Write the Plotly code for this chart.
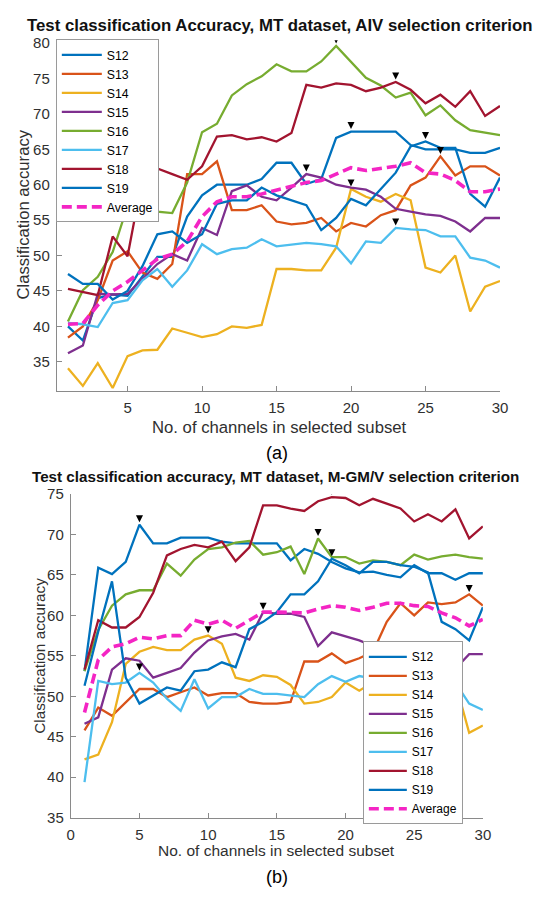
import plotly.graph_objects as go

# ---------------- data ----------------
channels = list(range(1, 31))
subjects = ["S12", "S13", "S14", "S15", "S16", "S17", "S18", "S19"]

# (a) AIV selection criterion
a_S12 = [40.0, 38.0, 44.0, 44.5, 44.3, 47.0, 49.8, 49.8, 55.5, 58.5, 60.0, 60.0, 60.0, 60.8, 63.1,
         63.1, 60.1, 60.8, 66.6, 67.5, 67.5, 67.5, 67.5, 65.6, 65.0, 65.0, 65.0, 64.5, 64.5, 65.2]
a_S13 = [38.4, 40.0, 43.7, 49.3, 50.6, 47.6, 46.7, 48.8, 61.5, 61.5, 63.3, 56.4, 56.4, 57.1, 54.8,
         54.4, 54.6, 55.3, 53.4, 54.6, 54.1, 55.7, 56.4, 59.9, 61.0, 64.0, 61.3, 62.6, 62.6, 61.3]
a_S14 = [34.1, 31.6, 34.8, 31.3, 35.8, 36.6, 36.7, 39.7, 39.1, 38.5, 38.9, 40.0, 39.8, 40.2, 48.1,
         48.1, 47.9, 47.9, 51.1, 59.4, 58.3, 57.6, 58.7, 57.8, 48.3, 47.6, 50.0, 42.1, 45.6, 46.4]
a_S15 = [36.2, 37.3, 44.6, 44.5, 44.6, 46.7, 48.8, 50.2, 49.3, 53.9, 52.9, 59.1, 59.9, 58.3, 57.8,
         59.6, 61.5, 61.0, 60.0, 59.6, 59.3, 58.3, 56.6, 56.2, 55.8, 55.6, 54.8, 53.4, 55.3, 55.3]
a_S16 = [40.7, 45.1, 47.0, 50.5, 57.0, 62.0, 56.2, 56.0, 60.3, 67.4, 68.6, 72.6, 74.2, 75.3, 77.0,
         76.0, 76.0, 77.4, 79.6, 77.4, 75.1, 74.0, 72.3, 73.0, 69.8, 71.2, 69.1, 67.7, 67.3, 67.0]
a_S17 = [40.5, 40.3, 39.9, 43.3, 43.7, 46.5, 48.1, 45.6, 47.9, 51.6, 50.2, 50.9, 51.1, 52.3, 51.3,
         51.6, 51.8, 51.6, 51.3, 48.9, 52.0, 51.8, 53.9, 53.7, 53.6, 52.7, 52.7, 49.7, 49.3, 48.3]
a_S18 = [45.3, 44.9, 44.4, 52.7, 49.9, 61.0, 62.3, 61.5, 60.7, 62.6, 66.8, 67.0, 66.4, 66.7, 66.1,
         67.3, 74.1, 73.7, 74.3, 74.1, 73.2, 73.7, 74.5, 73.4, 71.5, 72.7, 71.0, 73.2, 69.7, 71.1]
a_S19 = [47.4, 46.0, 46.0, 43.8, 45.0, 48.5, 53.0, 53.4, 51.8, 53.0, 57.3, 57.8, 57.8, 59.6, 58.5,
         57.8, 57.1, 53.6, 55.3, 58.0, 57.1, 59.4, 61.7, 65.4, 66.1, 65.2, 65.2, 58.7, 56.9, 61.0]
a_avg = [40.3, 40.4, 43.0, 45.0, 46.3, 47.9, 49.5, 50.2, 52.0, 55.5, 57.6, 58.3, 58.3, 58.7, 59.2,
         59.7, 60.3, 60.6, 61.5, 62.4, 62.0, 62.3, 62.6, 63.1, 61.7, 61.5, 60.6, 59.0, 59.0, 59.4]

# (b) M-GM/V selection criterion
b_S12 = [53.1, 65.9, 65.1, 66.6, 71.2, 68.9, 68.9, 69.6, 69.6, 69.6, 69.1, 68.9, 68.9, 68.9, 68.9,
         66.8, 68.2, 67.6, 66.6, 65.8, 65.3, 65.4, 65.0, 64.7, 66.2, 65.2, 65.2, 64.4, 65.2, 65.2]
b_S13 = [45.8, 48.6, 47.6, 49.3, 50.9, 50.9, 49.9, 50.5, 51.1, 50.1, 50.4, 50.4, 49.3, 49.1, 49.1,
         49.3, 54.3, 54.3, 55.3, 54.1, 54.7, 55.5, 59.2, 61.5, 60.0, 61.6, 61.4, 61.6, 62.6, 61.2]
b_S14 = [42.2, 42.8, 46.8, 54.0, 55.5, 56.1, 55.7, 55.7, 57.0, 57.5, 56.5, 52.3, 51.9, 52.6, 52.4,
         51.4, 49.1, 49.3, 49.9, 51.7, 50.7, 51.7, 52.7, 53.8, 53.1, 51.7, 52.7, 51.7, 45.5, 46.4]
b_S15 = [46.6, 47.4, 53.3, 54.7, 54.4, 52.3, 52.9, 53.5, 55.4, 56.9, 57.4, 57.7, 57.0, 60.4, 60.2,
         60.2, 59.8, 56.2, 57.9, 57.4, 56.9, 56.2, 55.8, 56.2, 54.6, 55.5, 54.6, 53.4, 55.2, 55.2]
b_S16 = [53.1, 58.2, 61.2, 62.6, 63.1, 63.1, 66.4, 64.9, 66.9, 68.2, 68.4, 69.0, 69.2, 67.5, 67.8,
         68.5, 65.1, 69.5, 67.2, 67.2, 66.4, 66.8, 66.6, 66.2, 67.5, 66.9, 67.3, 67.5, 67.2, 67.0]
b_S17 = [39.4, 51.9, 51.5, 51.7, 52.9, 51.7, 49.7, 48.2, 52.1, 48.5, 49.9, 49.9, 50.9, 50.3, 50.3,
         50.1, 49.9, 51.5, 52.5, 51.8, 52.5, 52.2, 51.2, 51.5, 51.6, 51.7, 52.6, 51.7, 49.1, 48.3]
b_S18 = [53.3, 59.4, 58.5, 58.5, 59.8, 62.8, 67.4, 68.2, 68.7, 68.4, 69.1, 66.7, 68.4, 73.6, 73.6,
         73.2, 72.9, 74.1, 74.6, 74.5, 73.6, 74.4, 73.8, 73.2, 71.6, 72.5, 71.6, 73.1, 69.5, 71.0]
b_S19 = [51.3, 58.0, 64.2, 52.3, 49.1, 50.1, 51.1, 50.7, 53.1, 53.3, 54.2, 53.6, 58.3, 59.2, 60.4,
         62.6, 62.6, 64.2, 67.0, 66.2, 65.2, 66.6, 66.6, 66.2, 66.0, 65.3, 59.2, 58.3, 56.9, 61.0]
b_avg = [48.0, 54.5, 56.1, 56.5, 57.3, 57.1, 57.5, 57.5, 59.4, 58.9, 59.4, 58.4, 59.4, 60.4, 60.4,
         60.4, 60.3, 60.8, 61.2, 61.0, 60.6, 61.0, 61.5, 61.5, 61.2, 61.1, 60.3, 59.7, 58.7, 59.5]

a_ticks_x = [5, 10, 15, 20, 25, 30]
a_ticks_y = [35, 40, 45, 50, 55, 60, 65, 70, 75, 80]
b_ticks_x = [0, 5, 10, 15, 20, 25, 30]
b_ticks_y = [35, 40, 45, 50, 55, 60, 65, 70, 75]

title_a = "Test classification Accuracy, MT dataset, AIV selection criterion"
title_b = "Test classification accuracy, MT dataset, M-GM/V selection criterion"
xlabel = "No. of channels in selected subset"
ylabel = "Classification accuracy"

# ---------------- style ----------------
W, H = 539, 899
FONT = "Liberation Sans, Arial, sans-serif"
colors = ["#0072BD", "#D95319", "#EDB120", "#7E2F8E", "#77AC30", "#4DBEEE", "#A2142F", "#0072BD"]
avg_color = "#F425C4"
axis_col = "#8a8a8a"
text_col = "#303030"

series_a = [a_S12, a_S13, a_S14, a_S15, a_S16, a_S17, a_S18, a_S19]
series_b = [b_S12, b_S13, b_S14, b_S15, b_S16, b_S17, b_S18, b_S19]

fig = go.Figure()

def add_panel(series, avg, xa, ya, legend_name, off):
    for name, s, c in zip(subjects, series, colors):
        fig.add_trace(go.Scatter(x=channels, y=s, mode="lines", name=name,
                                 line=dict(color=c, width=2.3),
                                 xaxis=xa, yaxis=ya, legend=legend_name))
    fig.add_trace(go.Scatter(x=channels, y=avg, mode="lines", name="Average",
                             line=dict(color=avg_color, width=3.6, dash="10px,5px"),
                             xaxis=xa, yaxis=ya, legend=legend_name))
    # peak arrows (from data)
    px_, py_ = [], []
    for s in series:
        m = max(s)
        i = s.index(m)
        px_.append(channels[i])
        py_.append(m + off)
    fig.add_trace(go.Scatter(x=px_, y=py_, mode="markers", showlegend=False,
                             marker=dict(symbol="arrow-down", size=7, color="black"),
                             xaxis=xa, yaxis=ya, hoverinfo="skip"))

add_panel(series_a, a_avg, "x", "y", "legend", 0.35)
add_panel(series_b, b_avg, "x2", "y2", "legend2", 0.3)

ax_common = dict(showline=True, linecolor=axis_col, linewidth=1, ticks="inside",
                 ticklen=5, tickcolor=axis_col, showgrid=False, zeroline=False,
                 mirror=False, tickfont=dict(family=FONT, size=15, color=text_col))

fig.update_layout(
    width=W, height=H, margin=dict(l=0, r=0, t=0, b=0),
    paper_bgcolor="white", plot_bgcolor="white",
    font=dict(family=FONT, color=text_col),
    xaxis=dict(domain=[54 / W, 507.3 / W], range=[0.25, 30], tickvals=a_ticks_x,
               anchor="y", ticklabelstandoff=3, **ax_common),
    yaxis=dict(domain=[1 - 389.2 / H, 1 - 31.8 / H], range=[30.9, 80.4], tickvals=a_ticks_y,
               anchor="x", ticklabelstandoff=3, **ax_common),
    xaxis2=dict(domain=[68.3 / W, 489.8 / W], range=[0, 30], tickvals=b_ticks_x,
                anchor="y2", ticklabelstandoff=3, **ax_common),
    yaxis2=dict(domain=[1 - 824.3 / H, 1 - 494.3 / H], range=[35, 75], tickvals=b_ticks_y,
                anchor="x2", ticklabelstandoff=3, **ax_common),
    legend=dict(x=53 / W, y=1 - 31 / H, xanchor="left", yanchor="top",
                bgcolor="white", bordercolor="#9a9a9a", borderwidth=1,
                font=dict(family=FONT, size=12.3, color="black"), itemwidth=40,
                tracegroupgap=0),
    legend2=dict(x=367 / W, y=1 - 831 / H, xanchor="left", yanchor="bottom",
                 bgcolor="white", bordercolor="#9a9a9a", borderwidth=1,
                 font=dict(family=FONT, size=12, color="black"), itemwidth=38,
                 tracegroupgap=0),
    showlegend=True,
)

ann = [
    dict(text="<b>" + title_a + "</b>", x=282 / W, y=1 - 17 / H, size=16.8, col="#111111", angle=0),
    dict(text="<b>" + title_b + "</b>", x=278 / W, y=1 - 477 / H, size=15.2, col="#111111", angle=0),
    dict(text=ylabel, x=19 / W, y=1 - 210 / H, size=16.7, col=text_col, angle=-90),
    dict(text=ylabel, x=36 / W, y=1 - 659 / H, size=15.3, col=text_col, angle=-90),
    dict(text=xlabel, x=282 / W, y=1 - 427 / H, size=16.7, col=text_col, angle=0),
    dict(text=xlabel, x=279 / W, y=1 - 858 / H, size=15.5, col=text_col, angle=0),
    dict(text="(a)", x=279 / W, y=1 - 453 / H, size=18, col="black", angle=0),
    dict(text="(b)", x=279.5 / W, y=1 - 885 / H, size=18, col="black", angle=0),
]
for a in ann:
    fig.add_annotation(text=a["text"], x=a["x"], y=a["y"], xref="paper", yref="paper",
                       xanchor="center", yanchor="middle", showarrow=False,
                       textangle=a["angle"],
                       font=dict(family=FONT, size=a["size"], color=a["col"]))

fig.write_html("out.html")
